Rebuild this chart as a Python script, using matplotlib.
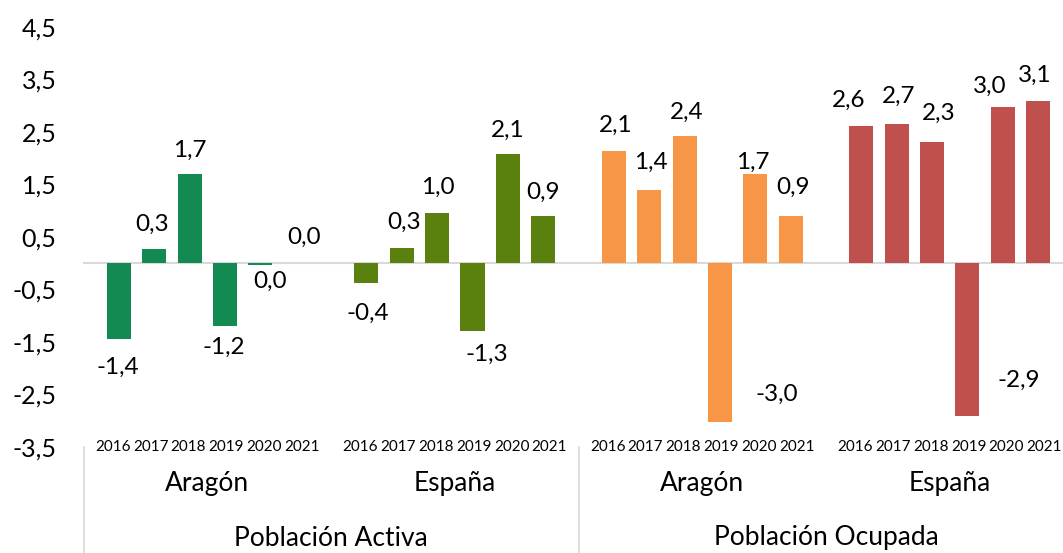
import matplotlib
matplotlib.use("Agg")
import matplotlib.pyplot as plt
import matplotlib.transforms as mtransforms

# ---- data ----
years = ["2016", "2017", "2018", "2019", "2020", "2021"]
regions = ["Aragón", "España"]
measures = ["Población Activa", "Población Ocupada"]
activa_aragon = [-1.44, 0.27, 1.70, -1.19, -0.03, 0.0]
activa_espana = [-0.38, 0.29, 0.96, -1.29, 2.08, 0.90]
ocupada_aragon = [2.14, 1.40, 2.43, -3.02, 1.70, 0.90]
ocupada_espana = [2.61, 2.66, 2.31, -2.91, 2.98, 3.09]
ytick_values = [-3.5, -2.5, -1.5, -0.5, 0.5, 1.5, 2.5, 3.5, 4.5]

series = [activa_aragon, activa_espana, ocupada_aragon, ocupada_espana]
colors = ["#138A52", "#5A800D", "#F79646", "#C0504D"]

# label offsets in pixels (dx, dy) relative to bar end
label_offsets = [
    [(-1, -28), (-2, 25), (0, 24), (-1, -22), (10, -17), (8, 26)],
    [(1, -30), (2, 26), (1, 26), (14, -23), (0, 24), (0, 24)],
    [(2, 26), (2, 27), (2, 23), (57, 27), (-3, 12), (2, 29)],
    [(-13, 26), (2, 27), (7, 29), (51, 36), (-13, 20), (-3, 26)],
]

plt.rcParams['font.family'] = ['Lato', 'DejaVu Sans']

W, H = 1063, 553
fig = plt.figure(figsize=(W / 100, H / 100), dpi=100)
ax_l, ax_r, ax_t, ax_b = 83, 1063, 27, 447
ax = fig.add_axes([ax_l / W, (H - ax_b) / H, (ax_r - ax_l) / W, (ax_b - ax_t) / H])

slot_w = 35.35
x0_px = 119
ax.set_xlim((ax_l - x0_px) / slot_w, (ax_r - x0_px) / slot_w)
ax.set_ylim(-3.5, 4.5)

ax.axhline(0, color="#D9D9D9", lw=1.5, zorder=1)

group_gap = 7
for g, vals in enumerate(series):
    xs = [g * group_gap + i for i in range(len(vals))]
    ax.bar(xs, vals, width=0.68, color=colors[g], zorder=2)
    for i, (x, v) in enumerate(zip(xs, vals)):
        dx, dy = label_offsets[g][i]
        txt = f"{round(v, 1) + 0.0:.1f}".replace(".", ",")
        ax.annotate(txt, (x, v), xytext=(dx, dy), textcoords="offset pixels",
                    ha="center", va="center", fontsize=17.5, color="black")

# y axis
ax.set_yticks(ytick_values)
ax.set_yticklabels([f"{v:.1f}".replace(".", ",") for v in ytick_values])
ax.tick_params(axis="y", length=0, pad=19, labelsize=18)
ax.set_xticks([])
for s in ax.spines.values():
    s.set_visible(False)

trans = mtransforms.blended_transform_factory(ax.transData, ax.transAxes)
h_ax = ax_b - ax_t

# year labels
for g in range(4):
    center = g * group_gap + 2.5
    for i, y in enumerate(years):
        xpos = center + (i - 2.5) * 1.07
        ax.text(xpos, -3.5, y, ha="center", va="center", fontsize=11)

# region labels
for g in range(4):
    center = g * group_gap + 2.5
    ax.text(center, (ax_b - 484) / h_ax, regions[g % 2], transform=trans,
            ha="center", va="center", fontsize=19)

# measure labels
for m in range(2):
    center = m * 2 * group_gap + 6
    ax.text(center, (ax_b - 538) / h_ax, measures[m], transform=trans,
            ha="center", va="center", fontsize=19)

# separator lines
for xs in [-1, 13, 27]:
    ax.plot([xs, xs], [0, -(H - ax_b) / h_ax], transform=trans, color="#D9D9D9",
            lw=1.2, clip_on=False)

fig.savefig("out.png", dpi=100)
